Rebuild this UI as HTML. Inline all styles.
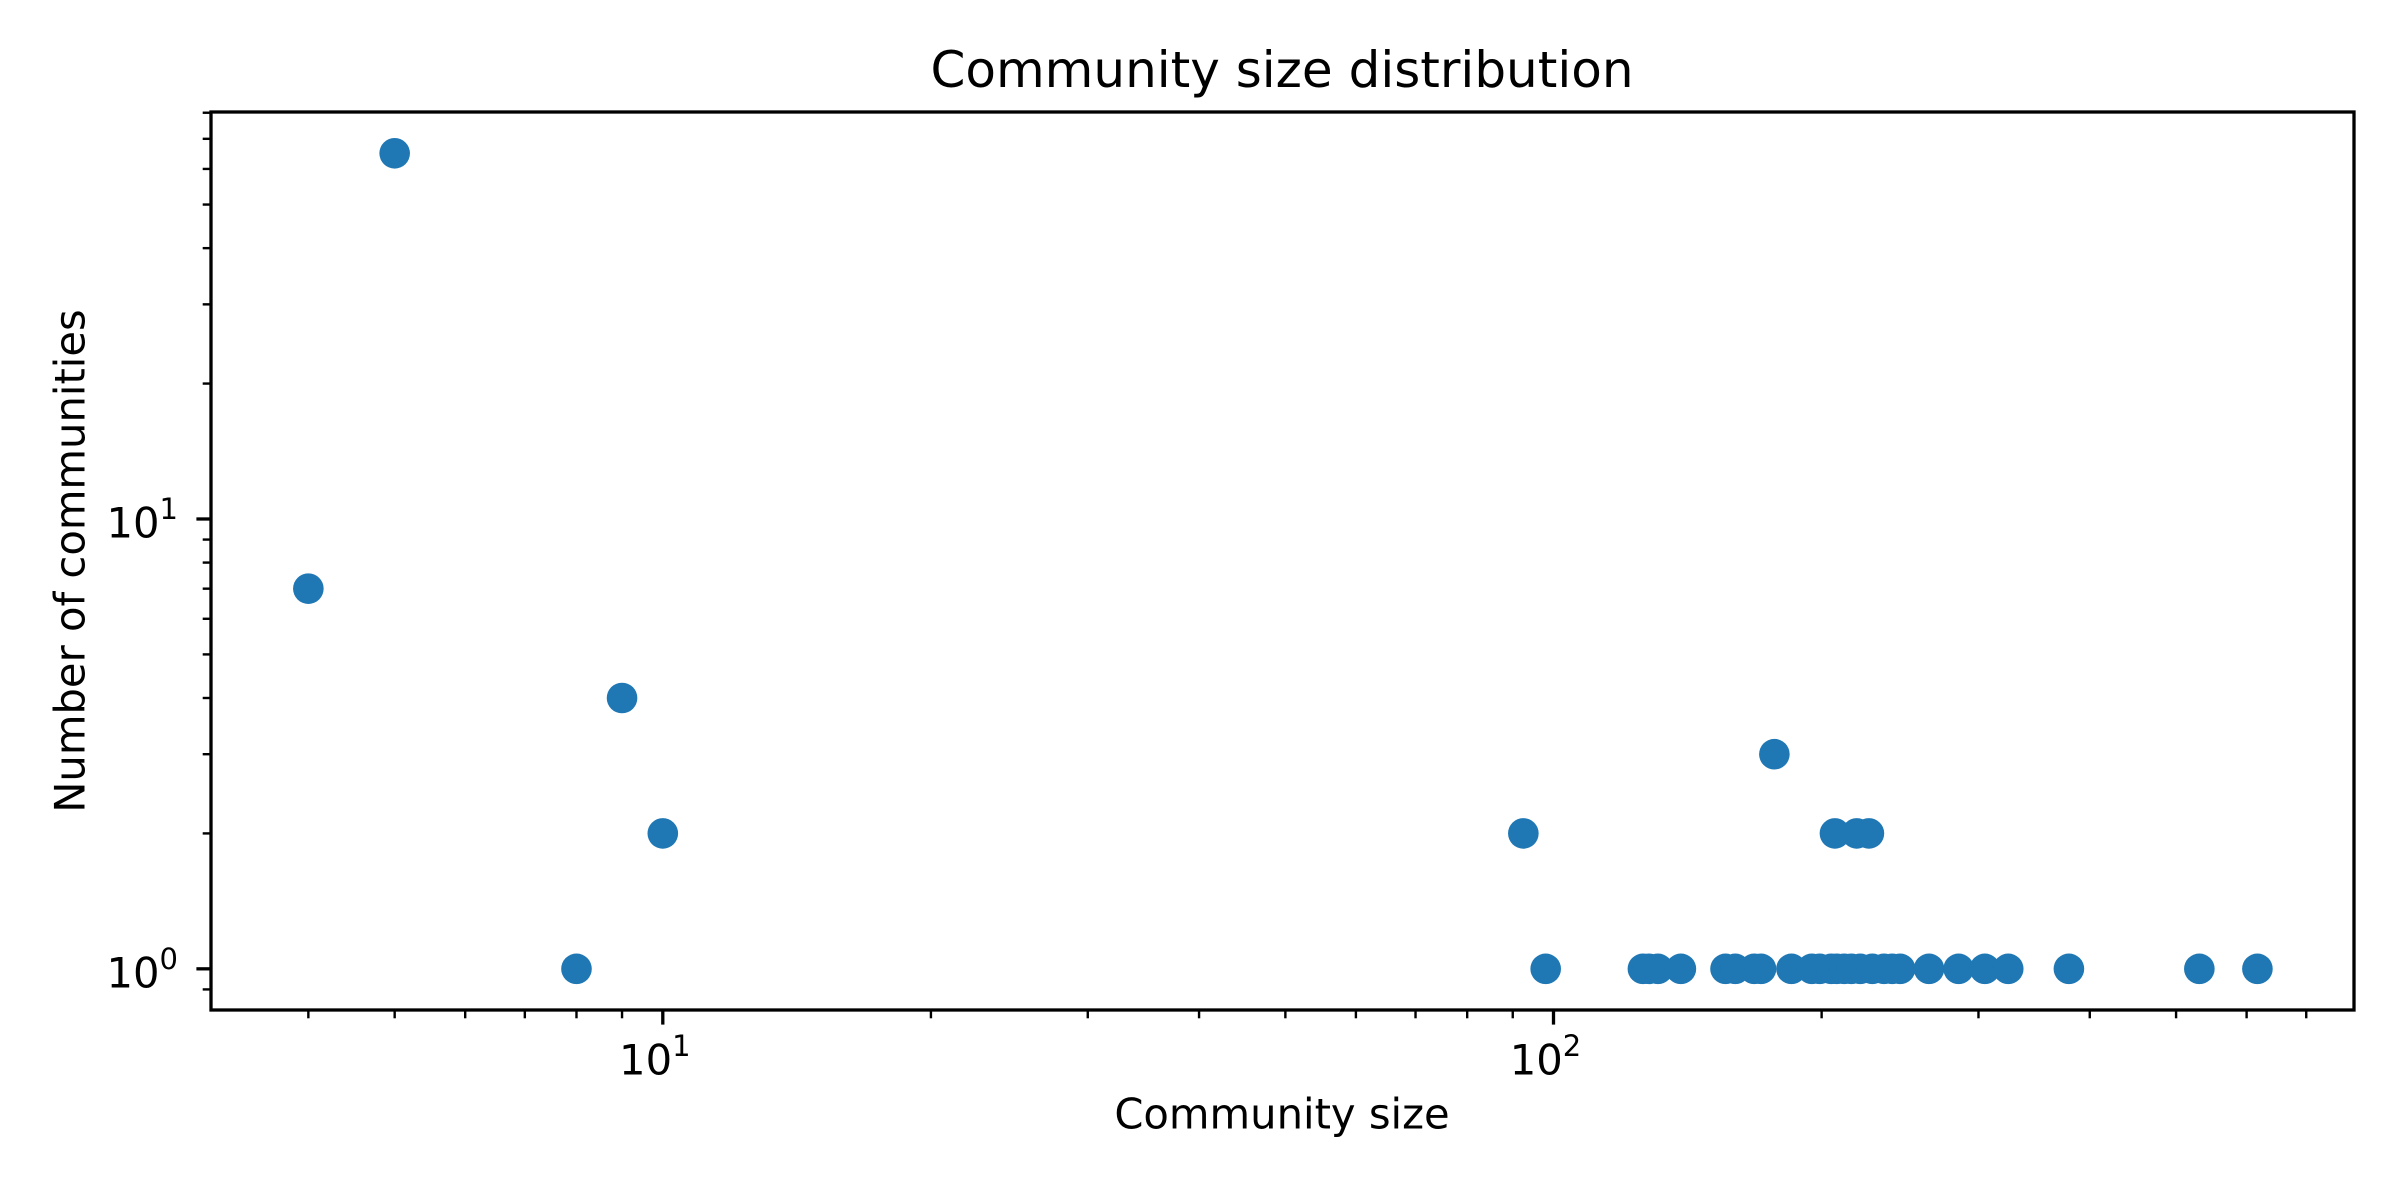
<!DOCTYPE html>
<html><head><meta charset="utf-8"><style>
html,body{margin:0;padding:0;background:#fff;}
svg{display:block;}
text{font-family:"DejaVu Sans","Liberation Sans",sans-serif;fill:#000;}
</style></head><body>
<svg id="chart" width="2400" height="1200" viewBox="0 0 2400 1200" xmlns="http://www.w3.org/2000/svg">
<rect width="2400" height="1200" fill="#fff"/>
<g id="ticks"></g>
<g id="points"></g>
<rect x="211" y="112" width="2143" height="898" fill="none" stroke="#000" stroke-width="3.3"/>
<text x="1282" y="70" font-size="50" text-anchor="middle" dominant-baseline="central">Community size distribution</text>
<text x="1282" y="1114" font-size="41.7" text-anchor="middle" dominant-baseline="central">Community size</text>
<text x="70" y="561" font-size="41.7" text-anchor="middle" dominant-baseline="central" transform="rotate(-90 70 561)">Number of communities</text>
</svg>
<script>
const sizes = [4,5,8,9,10,92.5,98,126,128,131,139,156,160,168,171,177,185,195,199,205,207,208,212,216,219,221,226,228,235,240,245,264,285,305,324,379,531,617];
const counts = [7,65,1,4,2,2,1,1,1,1,1,1,1,1,1,3,1,1,1,1,2,1,1,1,2,1,2,1,1,1,1,1,1,1,1,1,1,1];
const xMajorTicks = [1,2];
const yMajorTicks = [0,1];

const L=211,R=2354,T=112,B=1010;
const xMinLog=Math.log10(3.11), xMaxLog=Math.log10(792);
const yMinLog=Math.log10(0.81), yMaxLog=Math.log10(80.3);
function xs(v){return L+(Math.log10(v)-xMinLog)/(xMaxLog-xMinLog)*(R-L);}
function ys(v){return B-(Math.log10(v)-yMinLog)/(yMaxLog-yMinLog)*(B-T);}
const NS='http://www.w3.org/2000/svg';
const tg=document.getElementById('ticks');
function line(x1,y1,x2,y2,name){
  const l=document.createElementNS(NS,'line');
  l.setAttribute('x1',x1);l.setAttribute('y1',y1);l.setAttribute('x2',x2);l.setAttribute('y2',y2);
  l.setAttribute('stroke','#000');l.setAttribute('stroke-width',name.indexOf('minor')>=0?2.4:3.3);
  
  
  tg.appendChild(l);
}
function label(x,y,exp,anchor,name){
  const t=document.createElementNS(NS,'text');
  t.setAttribute('x',x);t.setAttribute('y',y);t.setAttribute('font-size','41.7');
  t.setAttribute('text-anchor',anchor);t.setAttribute('dominant-baseline','central');
  
  
  t.appendChild(document.createTextNode('10'));
  const s=document.createElementNS(NS,'tspan');
  s.setAttribute('font-size','29');s.setAttribute('dy','-14');
  s.textContent=exp;t.appendChild(s);
  tg.appendChild(t);
}
for(let d=0;d<=2;d++){for(let m=1;m<=9;m++){const v=m*Math.pow(10,d);
  if(v<3.11||v>792)continue;const x=xs(v);
  if(m===1){line(x,B,x,B+14.6,'x-major-tick');}else{line(x,B,x,B+8.3,'x-minor-tick');}
}}
xMajorTicks.forEach(e=>{label(xs(Math.pow(10,e))-8,1060,String(e),'middle','x-tick-label');});
for(let d=-1;d<=1;d++){for(let m=1;m<=9;m++){const v=m*Math.pow(10,d);
  if(v<0.81||v>80.3)continue;const y=ys(v);
  if(m===1){line(L-14.6,y,L,y,'y-major-tick');}else{line(L-8.3,y,L,y,'y-minor-tick');}
}}
yMajorTicks.forEach(e=>{label(178,ys(Math.pow(10,e))+4,String(e),'end','y-tick-label');});
const pg=document.getElementById('points');
sizes.forEach((s,i)=>{
  const c=document.createElementNS(NS,'circle');
  c.setAttribute('cx',xs(s));c.setAttribute('cy',ys(counts[i]));c.setAttribute('r',15.3);
  c.setAttribute('fill','#1f77b4');
  
  
  pg.appendChild(c);
});
</script>
</body></html>
